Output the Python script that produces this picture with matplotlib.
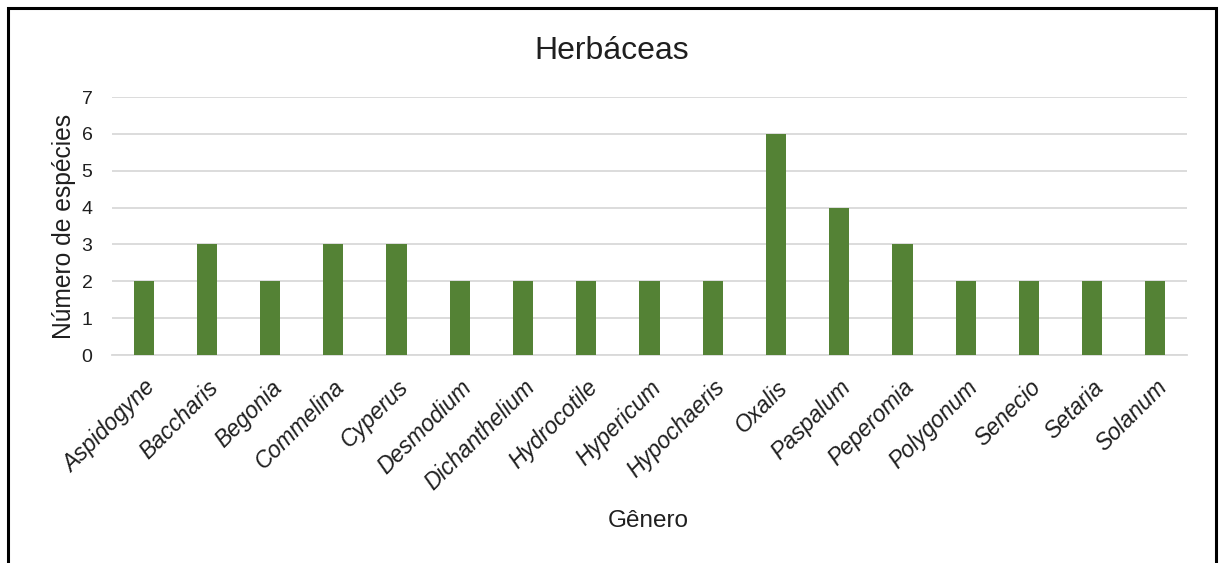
import matplotlib
matplotlib.use("Agg")
from matplotlib import pyplot as plt
from matplotlib.patches import Rectangle


# Genus names and number of species per genus
GENEROS = [
    "Aspidogyne", "Baccharis", "Begonia", "Commelina", "Cyperus",
    "Desmodium", "Dichanthelium", "Hydrocotile", "Hypericum", "Hypochaeris",
    "Oxalis", "Paspalum", "Peperomia", "Polygonum", "Senecio",
    "Setaria", "Solanum"
]
ESPECIES = [2, 3, 2, 3, 3, 2, 2, 2, 2, 2, 6, 4, 3, 2, 2, 2, 2]
Y_TICKS = [0, 1, 2, 3, 4, 5, 6, 7]

BAR_COLOR = "#548235"
GRID_COLOR = "#D9D9D9"
TEXT_COLOR = "#1f1f1f"

plt.rcParams["font.family"] = ["Liberation Sans", "DejaVu Sans"]

fig = plt.figure(figsize=(12.19, 5.63), dpi=100)
ax = fig.add_axes([0.0919, 0.3694, 0.8818, 0.4583])

x = range(len(GENEROS))
ax.bar(x, ESPECIES, width=0.32, color=BAR_COLOR, zorder=3)

ax.set_xlim(-0.5, len(GENEROS) - 0.5)
ax.set_ylim(0, 7)
ax.set_yticks(Y_TICKS)
ax.set_yticklabels([str(v) for v in Y_TICKS], fontsize=14, color=TEXT_COLOR)
ax.set_xticks(list(x))
ax.set_xticklabels(GENEROS, rotation=45, ha="right", rotation_mode="anchor",
                   fontsize=16.5, style="italic", color=TEXT_COLOR)
ax.tick_params(axis="both", length=0)
ax.tick_params(axis="x", pad=15)
ax.tick_params(axis="y", pad=14)

ax.grid(axis="y", color=GRID_COLOR, linewidth=1.3, zorder=0)
for side in ["top", "right", "left"]:
    ax.spines[side].set_visible(False)
ax.spines["bottom"].set_color(GRID_COLOR)
ax.spines["bottom"].set_linewidth(1.3)

fig.text(0.502, 0.91, "Herbáceas", fontsize=23, color=TEXT_COLOR,
         ha="center", va="center")
ax.set_ylabel("Número de espécies", fontsize=17.7, color=TEXT_COLOR, labelpad=4)
fig.text(0.532, 0.075, "Gênero", fontsize=17.5, color=TEXT_COLOR,
         ha="center", va="center")

# frame around the whole figure, open at the bottom edge
frame = Rectangle((0.0066, -0.1), 0.9906, 1.086, transform=fig.transFigure,
                  fill=False, edgecolor="black", linewidth=2.2)
fig.patches.append(frame)

fig.savefig("out.png", dpi=100, facecolor="white")
